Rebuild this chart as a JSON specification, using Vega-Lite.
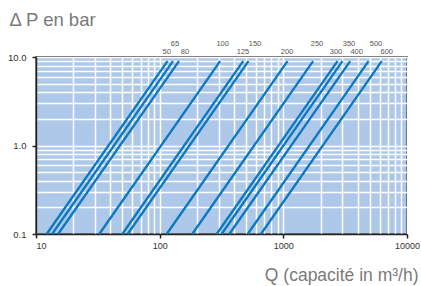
{
  "$schema": "https://vega.github.io/schema/vega-lite/v6.json",
  "width": 371,
  "height": 177,
  "autosize": "none",
  "padding": {"left": 36, "top": 57, "right": 14, "bottom": 52},
  "background": "white",
  "title": {"text": "Δ P en bar", "anchor": "start", "font": "Liberation Sans", "fontSize": 18.5, "fontWeight": "normal", "color": "#7a7a7a", "dx": 2, "offset": 11},
  "config": {"view": {"fill": "#aec8e9", "stroke": "#222222", "strokeWidth": 1.5}},
  "datasets": {
    "curves": [
      {"dn": "50", "q": 12.2, "dp": 0.1}, {"dn": "50", "q": 115.7, "dp": 9},
      {"dn": "65", "q": 13.5, "dp": 0.1}, {"dn": "65", "q": 128.1, "dp": 9},
      {"dn": "80", "q": 15.1, "dp": 0.1}, {"dn": "80", "q": 143.3, "dp": 9},
      {"dn": "100", "q": 32.5, "dp": 0.1}, {"dn": "100", "q": 308.3, "dp": 9},
      {"dn": "125", "q": 49.9, "dp": 0.1}, {"dn": "125", "q": 473.4, "dp": 9},
      {"dn": "150", "q": 55.1, "dp": 0.1}, {"dn": "150", "q": 522.7, "dp": 9},
      {"dn": "200", "q": 114, "dp": 0.1}, {"dn": "200", "q": 1081.5, "dp": 9},
      {"dn": "250", "q": 183.5, "dp": 0.1}, {"dn": "250", "q": 1740.9, "dp": 9},
      {"dn": "300", "q": 289, "dp": 0.1}, {"dn": "300", "q": 2741.7, "dp": 9},
      {"dn": "350", "q": 317, "dp": 0.1}, {"dn": "350", "q": 3007.4, "dp": 9},
      {"dn": "400", "q": 366, "dp": 0.1}, {"dn": "400", "q": 3472.2, "dp": 9},
      {"dn": "500", "q": 515, "dp": 0.1}, {"dn": "500", "q": 4885.8, "dp": 9},
      {"dn": "600", "q": 659, "dp": 0.1}, {"dn": "600", "q": 6251.9, "dp": 9}
    ],
    "labels": [
      {"dn": "50", "q": 114, "row": 2}, {"dn": "65", "q": 133, "row": 1},
      {"dn": "80", "q": 160, "row": 2}, {"dn": "100", "q": 323, "row": 1},
      {"dn": "125", "q": 472, "row": 2}, {"dn": "150", "q": 590, "row": 1},
      {"dn": "200", "q": 1071, "row": 2}, {"dn": "250", "q": 1871, "row": 1},
      {"dn": "300", "q": 2667, "row": 2}, {"dn": "350", "q": 3396, "row": 1},
      {"dn": "400", "q": 3918, "row": 2}, {"dn": "500", "q": 5613, "row": 1},
      {"dn": "600", "q": 6853, "row": 2}
    ]
  },
  "layer": [
    {
      "data": {"name": "curves"},
      "mark": {"type": "line", "color": "#0b78bf", "strokeWidth": 2.3},
      "encoding": {
        "x": {
          "field": "q", "type": "quantitative",
          "scale": {"type": "log", "domain": [10, 10000]},
          "axis": {
            "values": [10,20,30,40,50,60,70,80,90,100,200,300,400,500,600,700,800,900,1000,2000,3000,4000,5000,6000,7000,8000,9000,10000],
            "labelExpr": "(datum.value == 10 || datum.value == 100 || datum.value == 1000 || datum.value == 10000) ? format(datum.value, 'd') : ''",
            "labelOverlap": false, "labelBound": false, "labelFlush": false,
            "labelAlign": {"condition": {"test": "datum.value == 10", "value": "left"}, "value": "center"},
            "labelFont": "Liberation Sans", "labelFontSize": 9, "labelColor": "#333333",
            "labelPadding": 3,
            "grid": true, "gridColor": "white", "gridWidth": 1.5, "gridOpacity": 1,
            "domainColor": "#222222", "domainWidth": 1.5,
            "tickSize": 4, "tickColor": "#222222", "tickWidth": 1.5,
            "tickOpacity": {"condition": {"test": "datum.value == 10 || datum.value == 100 || datum.value == 1000 || datum.value == 10000", "value": 1}, "value": 0},
            "title": "Q (capacité in m³/h)",
            "titleFont": "Liberation Sans", "titleFontSize": 17.5, "titleFontWeight": "normal", "titleColor": "#7a7a7a",
            "titleAlign": "right", "titleAnchor": "end", "titleX": 382, "titleY": 46, "titleBaseline": "alphabetic"
          }
        },
        "y": {
          "field": "dp", "type": "quantitative",
          "scale": {"type": "log", "domain": [0.1, 10]},
          "axis": {
            "values": [0.1,0.2,0.3,0.4,0.5,0.6,0.7,0.8,0.9,1,2,3,4,5,6,7,8,9,10],
            "labelExpr": "(datum.value == 0.1 || datum.value == 1 || datum.value == 10) ? format(datum.value, '.1f') : ''",
            "labelOverlap": false, "labelBound": false, "labelFlush": false,
            "labelFont": "Liberation Sans", "labelFontSize": 9.5, "labelColor": "#333333",
            "labelPadding": 6,
            "grid": true, "gridColor": "white", "gridWidth": 1.5, "gridOpacity": 1,
            "domainColor": "#222222", "domainWidth": 1.5,
            "tickSize": 4, "tickColor": "#222222", "tickWidth": 1.5,
            "tickOpacity": {"condition": {"test": "datum.value == 0.1 || datum.value == 1 || datum.value == 10", "value": 1}, "value": 0},
            "title": null
          }
        },
        "detail": {"field": "dn", "type": "nominal"}
      }
    },
    {
      "data": {"name": "labels"},
      "transform": [{"filter": "datum.row == 1"}],
      "mark": {"type": "text", "dy": -12.7, "baseline": "middle", "align": "center", "font": "Liberation Sans", "fontSize": 7.5, "color": "#555555"},
      "encoding": {
        "x": {"field": "q", "type": "quantitative"},
        "y": {"datum": 10, "type": "quantitative"},
        "text": {"field": "dn", "type": "nominal"}
      }
    },
    {
      "data": {"name": "labels"},
      "transform": [{"filter": "datum.row == 2"}],
      "mark": {"type": "text", "dy": -5.3, "baseline": "middle", "align": "center", "font": "Liberation Sans", "fontSize": 7.5, "color": "#555555"},
      "encoding": {
        "x": {"field": "q", "type": "quantitative"},
        "y": {"datum": 10, "type": "quantitative"},
        "text": {"field": "dn", "type": "nominal"}
      }
    }
  ]
}
